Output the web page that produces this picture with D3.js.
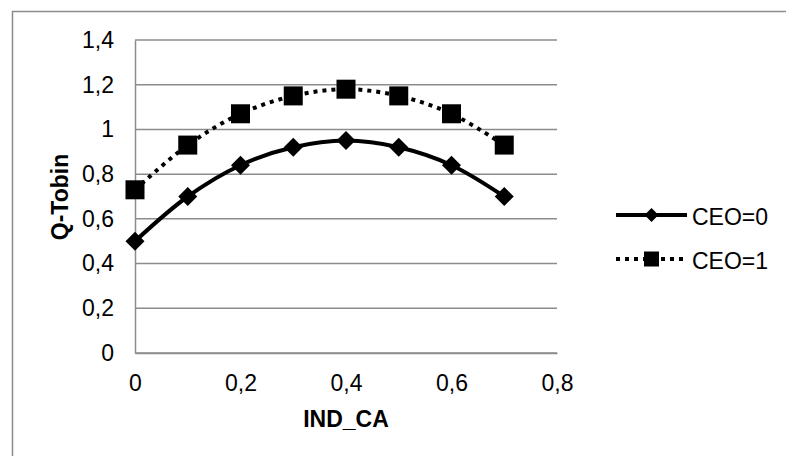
<!DOCTYPE html>
<html>
<head>
<meta charset="utf-8">
<script src="https://cdn.jsdelivr.net/npm/d3@7"></script>
<style>
  html, body { margin: 0; padding: 0; background: #fff; }
  svg { display: block; font-family: "Liberation Sans", Arial, sans-serif; }
</style>
</head>
<body>
<svg id="chart" width="786" height="456"></svg>
<script>
// Q-Tobin as a function of board independence, by CEO duality
const xValues = [0, 0.1, 0.2, 0.3, 0.4, 0.5, 0.6, 0.7];
const ceo0 = [0.5, 0.7, 0.84, 0.92, 0.95, 0.92, 0.84, 0.7];
const ceo1 = [0.73, 0.93, 1.07, 1.15, 1.18, 1.15, 1.07, 0.93];
const seriesNames = ["CEO=0", "CEO=1"];
const xTicks = [0, 0.2, 0.4, 0.6, 0.8];
const yTicks = [0, 0.2, 0.4, 0.6, 0.8, 1, 1.2, 1.4];
const xTitle = "IND_CA";
const yTitle = "Q-Tobin";

const FONT = 23;
const svg = d3.select("#chart");
const fmt = v => String(+v.toFixed(1)).replace(".", ",");

// outer chart frame
svg.append("rect")
  .attr("x", 12.5).attr("y", 11.5)
  .attr("width", 790).attr("height", 460)
  .attr("fill", "none").attr("stroke", "#8c8c8c").attr("stroke-width", 1.5);

const x = d3.scaleLinear().domain([0, 0.8]).range([135, 557]);
const y = d3.scaleLinear().domain([0, 1.4]).range([353, 40]);

// horizontal gridlines
svg.append("g")
  .selectAll("line").data(yTicks).join("line")
  .attr("x1", x(0)).attr("x2", x(0.8))
  .attr("y1", d => y(d)).attr("y2", d => y(d))
  .attr("stroke", "#8c8c8c").attr("stroke-width", 1.5);

// axes
const yAxis = svg.append("g")
  .attr("transform", `translate(${x(0)},0)`)
  .call(d3.axisLeft(y).tickValues(yTicks).tickFormat(fmt).tickSize(0).tickPadding(21));
const xAxis = svg.append("g")
  .attr("transform", `translate(0,${y(0)})`)
  .call(d3.axisBottom(x).tickValues(xTicks).tickFormat(fmt).tickSize(0).tickPadding(22));
[xAxis, yAxis].forEach(g => {
  g.attr("font-size", FONT).attr("font-family", "Liberation Sans, Arial, sans-serif");
  g.select(".domain").attr("stroke", "#8c8c8c").attr("stroke-width", 1.5);
  g.selectAll("text").attr("fill", "#000");
});

// axis titles
svg.append("text")
  .attr("x", 346).attr("y", 427)
  .attr("text-anchor", "middle")
  .attr("font-size", FONT).attr("font-weight", "bold")
  .text(xTitle);
svg.append("text")
  .attr("transform", "translate(68,197) rotate(-90)")
  .attr("text-anchor", "middle")
  .attr("font-size", FONT).attr("font-weight", "bold")
  .text(yTitle);

const line = d3.line()
  .x((d, i) => x(xValues[i]))
  .y(d => y(d))
  .curve(d3.curveCatmullRom.alpha(0.5));

const seriesStyle = [
  { data: ceo0, dash: null, marker: "diamond" },
  { data: ceo1, dash: "4,5", marker: "square" }
];

function drawMarker(g, type, cx, cy, s) {
  if (type === "diamond") {
    g.append("path")
      .attr("d", `M${cx},${cy - s}L${cx + s},${cy}L${cx},${cy + s}L${cx - s},${cy}Z`)
      .attr("fill", "#000");
  } else {
    g.append("rect")
      .attr("x", cx - s).attr("y", cy - s)
      .attr("width", 2 * s).attr("height", 2 * s)
      .attr("fill", "#000");
  }
}

seriesStyle.forEach(s => {
  svg.append("path")
    .datum(s.data)
    .attr("d", line)
    .attr("fill", "none")
    .attr("stroke", "#000")
    .attr("stroke-width", 4)
    .attr("stroke-dasharray", s.dash);
  const g = svg.append("g");
  s.data.forEach((v, i) => {
    drawMarker(g, s.marker, x(xValues[i]), y(v), s.marker === "diamond" ? 9.5 : 9.5);
  });
});

// legend
const legend = svg.append("g");
seriesStyle.forEach((s, i) => {
  const ly = 215 + i * 44;
  legend.append("line")
    .attr("x1", 616).attr("x2", 687)
    .attr("y1", ly).attr("y2", ly)
    .attr("stroke", "#000").attr("stroke-width", 4)
    .attr("stroke-dasharray", s.dash);
  drawMarker(legend, s.marker, 651.5, ly, s.marker === "diamond" ? 7 : 7.5);
  legend.append("text")
    .attr("x", 692).attr("y", ly + 10)
    .attr("font-size", FONT)
    .text(seriesNames[i]);
});
</script>
</body>
</html>
